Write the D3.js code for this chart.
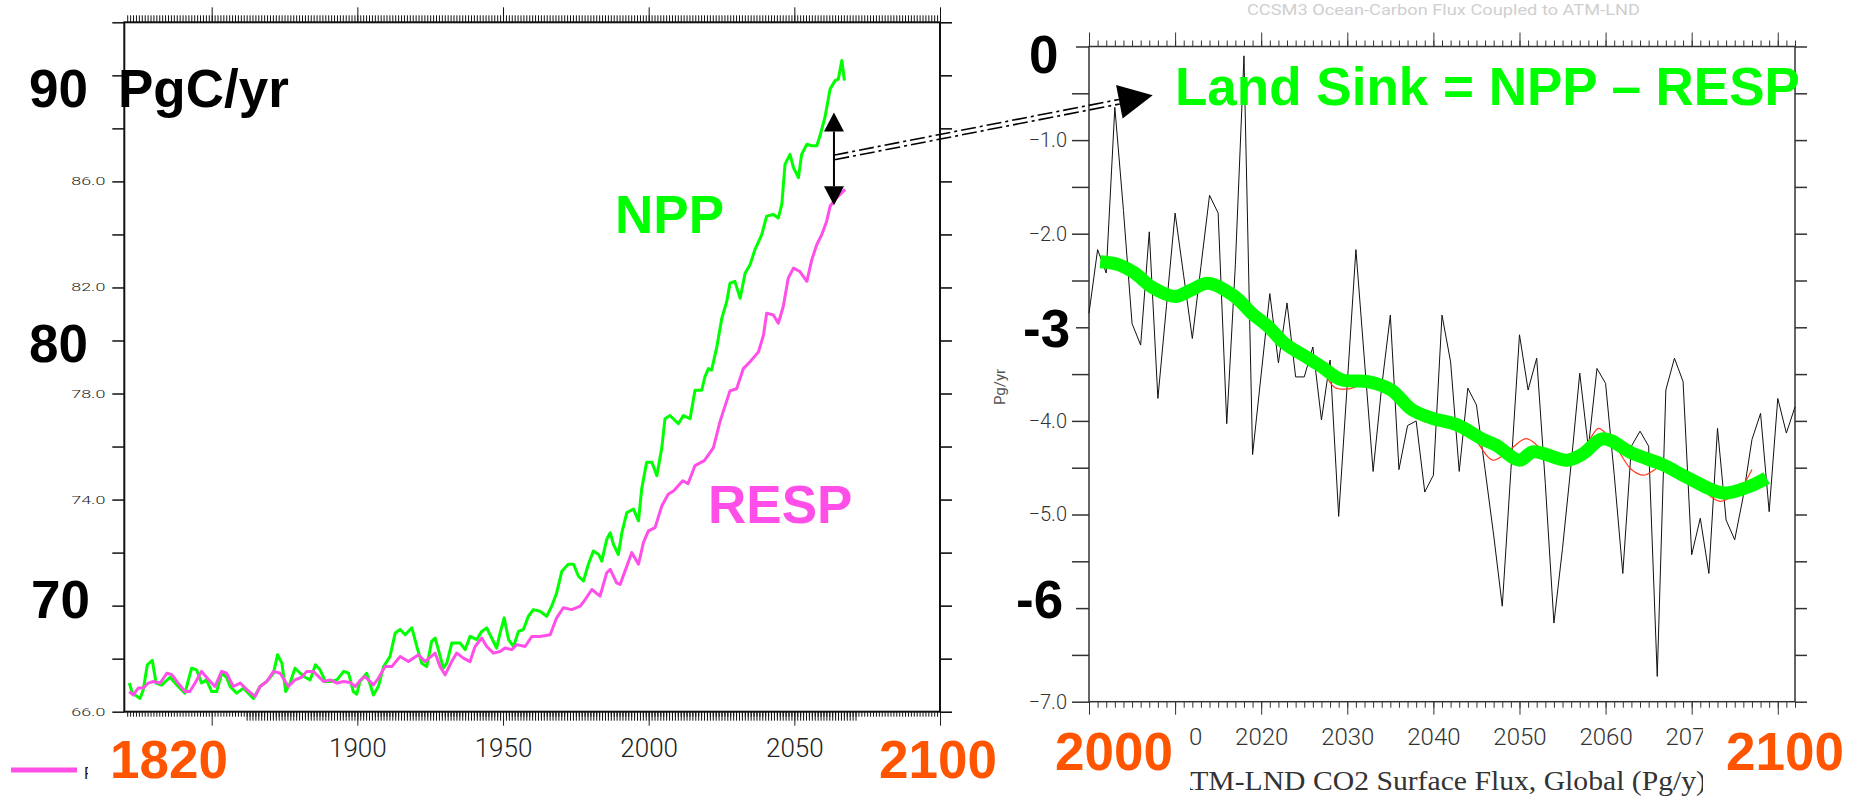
<!DOCTYPE html>
<html>
<head>
<meta charset="utf-8">
<script src="https://cdn.jsdelivr.net/npm/d3@7"></script>
<style>
  body { margin: 0; background: #fff; }
  svg { display: block; }
</style>
</head>
<body>
<svg id="chart" width="1860" height="798"></svg>
<script>
// ---- left panel: global NPP and RESP (PgC/yr) ----
const nppYears = [1821.7,1822.8,1825.4,1826.5,1827.9,1829.6,1830.9,1832.8,1835.7,1838.5,1840.8,1843.1,1844.8,1846.5,1848.2,1850.0,1851.7,1853.4,1855.1,1856.3,1858.6,1860.9,1864.3,1866.6,1868.9,1871.2,1872.6,1874.1,1875.4,1876.9,1878.6,1880.4,1882.1,1883.8,1885.6,1887.2,1889.0,1890.7,1893.0,1895.3,1897.0,1898.6,1899.8,1900.9,1903.2,1905.5,1907.2,1909.0,1911.2,1913.0,1914.7,1916.4,1918.7,1920.4,1922.1,1923.8,1925.5,1926.7,1927.8,1929.5,1930.7,1932.4,1935.3,1937.0,1938.7,1941.0,1942.7,1944.4,1946.1,1947.8,1949.0,1950.4,1951.9,1953.6,1955.3,1957.0,1958.7,1960.4,1962.7,1965.0,1966.7,1968.4,1970.2,1972.4,1974.2,1975.9,1977.6,1979.3,1981.0,1982.8,1983.9,1985.6,1986.8,1987.9,1989.6,1990.8,1992.5,1994.8,1996.5,1997.6,1999.3,2001.1,2002.8,2004.5,2005.6,2007.3,2010.2,2011.9,2014.2,2015.9,2018.2,2019.3,2020.5,2021.6,2023.4,2025.1,2026.8,2027.9,2029.6,2031.4,2033.1,2034.8,2036.5,2038.8,2040.5,2042.8,2044.5,2045.7,2046.8,2048.5,2049.7,2051.4,2052.5,2054.3,2056.0,2057.7,2058.8,2060.5,2062.3,2064.0,2065.1,2066.3,2067.2];
const nppValues = [67.08,66.70,66.50,66.82,67.77,67.94,67.08,67.00,67.30,66.95,66.70,67.64,67.58,67.08,67.20,66.76,66.76,67.45,67.30,66.95,66.70,66.89,66.50,66.95,67.14,67.45,68.15,67.83,66.76,67.08,67.64,67.45,67.30,67.20,67.77,67.58,67.14,67.14,67.20,67.52,67.45,66.76,66.66,67.14,67.45,66.63,66.95,67.70,68.08,68.97,69.10,68.90,69.16,68.46,67.83,67.70,68.65,68.78,68.34,67.64,67.83,68.59,68.59,68.34,68.84,68.72,69.03,69.16,68.78,68.40,68.97,69.54,68.72,68.46,69.03,69.10,69.60,69.85,69.79,69.60,69.98,70.48,71.30,71.56,71.56,71.11,70.93,71.56,72.06,71.93,71.68,72.50,72.75,72.31,71.93,72.75,73.51,73.64,73.20,74.40,75.41,75.41,74.90,75.95,77.05,77.17,76.86,77.17,77.05,78.12,78.12,78.63,78.94,78.88,79.76,80.84,81.47,82.16,82.23,81.59,82.54,82.86,83.43,83.99,84.69,84.75,84.62,85.13,86.64,87.02,86.52,86.14,87.02,87.40,87.34,87.34,87.72,88.41,89.49,89.80,89.86,90.56,89.80];

const respYears = [1821.7,1823.1,1824.8,1826.5,1828.2,1830.0,1832.3,1834.6,1836.3,1838.5,1840.8,1842.5,1844.3,1846.5,1848.2,1851.1,1853.4,1855.1,1857.4,1859.8,1861.5,1864.9,1866.6,1868.9,1871.2,1873.5,1876.3,1878.6,1880.9,1882.6,1884.9,1888.4,1890.7,1893.0,1895.3,1897.5,1899.3,1901.1,1902.6,1905.5,1907.2,1909.5,1911.8,1914.7,1917.5,1921.0,1923.2,1926.7,1928.4,1930.1,1932.4,1934.1,1936.4,1938.7,1940.4,1942.7,1944.4,1946.7,1949.0,1950.7,1953.0,1954.7,1957.6,1959.9,1962.7,1966.2,1968.4,1970.7,1973.6,1976.5,1978.2,1980.5,1983.3,1985.6,1986.8,1989.0,1990.2,1992.5,1994.2,1996.5,1998.2,1999.9,2002.2,2004.5,2006.7,2008.6,2011.7,2013.5,2015.9,2019.1,2022.2,2024.5,2027.9,2030.2,2032.5,2034.8,2037.7,2039.4,2040.5,2042.8,2044.5,2046.2,2047.9,2049.7,2051.9,2054.3,2056.0,2057.7,2059.4,2061.1,2062.3,2064.0,2065.7,2067.4];
const respValues = [66.76,66.63,66.89,66.89,67.08,67.14,67.08,67.45,67.40,67.08,66.76,66.76,67.08,67.52,67.30,66.95,67.52,67.45,66.95,67.08,66.89,66.57,66.95,67.14,67.52,67.45,66.95,67.20,67.30,67.52,67.52,67.14,67.20,67.08,67.14,67.10,66.95,67.20,67.33,67.01,67.26,67.70,67.70,68.08,67.89,68.15,67.89,68.21,67.70,67.39,67.89,68.21,68.02,67.89,68.46,68.78,68.46,68.21,68.27,68.40,68.34,68.53,68.46,68.84,68.84,68.90,69.54,69.92,69.85,69.98,70.23,70.61,70.36,71.24,71.37,70.86,70.80,71.49,72.00,71.56,72.38,72.82,72.94,73.76,74.20,74.33,74.71,74.60,75.28,75.47,75.95,76.95,78.10,78.18,78.94,79.20,79.57,80.20,81.03,80.96,80.65,81.28,82.35,82.73,82.60,82.23,83.05,83.61,83.99,84.50,85.07,85.32,85.51,85.70];

// ---- right panel: land CO2 surface flux (Pg/y) ----
const sinkYears = d3.range(2000, 2083);
const sinkValues = [-2.85,-2.17,-2.42,-0.65,-1.75,-2.96,-3.19,-1.98,-3.76,-2.77,-1.78,-2.45,-3.12,-2.35,-1.59,-1.78,-4.03,-2.33,-0.10,-4.36,-3.50,-2.64,-3.38,-2.74,-3.53,-3.53,-3.21,-3.99,-3.35,-5.02,-3.60,-2.17,-3.36,-4.54,-3.63,-2.87,-4.52,-4.05,-4.00,-4.76,-4.58,-2.87,-3.37,-4.54,-3.65,-3.83,-4.52,-5.22,-5.98,-4.53,-3.08,-3.67,-3.33,-4.67,-6.16,-5.36,-4.46,-3.49,-4.29,-3.44,-3.60,-4.57,-5.63,-4.27,-4.11,-4.27,-6.73,-3.67,-3.33,-3.58,-5.43,-5.04,-5.63,-4.08,-5.06,-5.27,-4.80,-4.20,-3.92,-4.97,-3.76,-4.13,-3.85];

const redYears = [2001.5,2004,2007,2008.5,2010,2012,2014,2016.5,2019,2021,2023,2025,2027,2028.5,2030,2032.5,2035,2037.5,2039,2041,2043,2045,2046.9,2049,2050.8,2053,2056,2058,2059.2,2061,2063,2064.4,2067,2070,2073.3,2075.5,2077];
const redValues = [-2.30,-2.38,-2.55,-2.69,-2.68,-2.58,-2.53,-2.68,-2.90,-3.05,-3.20,-3.33,-3.45,-3.64,-3.66,-3.60,-3.67,-3.92,-4.01,-4.03,-4.05,-4.22,-4.42,-4.30,-4.19,-4.33,-4.42,-4.22,-4.08,-4.25,-4.52,-4.58,-4.47,-4.62,-4.86,-4.74,-4.52];

const trendYears = [2001.3,2003.4,2005.3,2007.3,2010.0,2011.9,2013.8,2016.9,2018.9,2020.8,2022.7,2025.1,2027.0,2029.3,2032.4,2035.1,2037.5,2039.8,2042.7,2045.8,2047.3,2050.0,2051.6,2055.5,2057.4,2059.7,2063.2,2066.7,2069.4,2073.6,2076.7,2078.7];
const trendValues = [-2.30,-2.33,-2.42,-2.57,-2.67,-2.60,-2.53,-2.67,-2.85,-2.99,-3.17,-3.31,-3.42,-3.56,-3.58,-3.67,-3.88,-3.97,-4.04,-4.20,-4.26,-4.42,-4.33,-4.42,-4.35,-4.19,-4.35,-4.47,-4.60,-4.77,-4.70,-4.61];

// tick labels that the overlays leave visible
const leftYLabels = [66, 74, 78, 82, 86];
const leftXLabels = [1900, 1950, 2000, 2050];
const rightYLabels = [-1, -2, -4, -5, -7];
const rightXLabels = [2010, 2020, 2030, 2040, 2050, 2060, 2070];

// gap arrow between NPP and RESP, and where the connector lands
const gapYear = 2063.6, gapTop = 88.6, gapBottom = 85.1, gapMid = 86.9;
const sinkArrowYear = 2007.4, sinkArrowValue = -0.52;

const F_BIG = "'Liberation Sans', Arial, sans-serif";
const F_TICK = "Roboto, 'Liberation Sans', sans-serif";
const GREEN = "#00ff00", MAGENTA = "#ff4fe8", ORANGE = "#ff5500";

const svg = d3.select("#chart");
svg.append("rect").attr("width", 1860).attr("height", 798).attr("fill", "#fff");

const styleAxis = (g, size, color) => {
  g.select(".domain").remove();
  g.selectAll(".tick line").attr("stroke", color);
  g.selectAll(".tick text")
    .attr("font-size", size).attr("font-family", F_TICK)
    .attr("font-weight", 300).attr("fill", color);
};
const only = list => d => list.includes(d);

// ================= left panel =================
const xL = d3.scaleLinear().domain([1820, 2100]).range([124.3, 940]);
const yL = d3.scaleLinear().domain([66, 92]).range([711.7, 22.3]);
const gL = svg.append("g");

gL.append("g").attr("transform", `translate(0,${yL(66)})`)
  .call(d3.axisBottom(xL).tickValues(d3.range(1821, 2100)).tickSize(5).tickFormat(""))
  .call(g => styleAxis(g, 0, "#111"));
gL.append("g").attr("transform", `translate(0,${yL(66)})`)
  .call(d3.axisBottom(xL).tickValues(d3.range(1862, 2072)).tickSize(9).tickFormat(""))
  .call(g => styleAxis(g, 0, "#111"));
gL.append("g").attr("transform", `translate(0,${yL(66)})`)
  .call(d3.axisBottom(xL).tickValues(d3.range(1850, 2101, 50)).tickSize(14).tickPadding(13)
    .tickFormat(d => only(leftXLabels)(d) ? d3.format("d")(d) : ""))
  .call(g => styleAxis(g, 26, "#222"));

gL.append("g").attr("transform", `translate(0,${yL(92)})`)
  .call(d3.axisTop(xL).tickValues(d3.range(1821, 2100)).tickSize(7).tickFormat(""))
  .call(g => styleAxis(g, 0, "#111"));
gL.append("g").attr("transform", `translate(0,${yL(92)})`)
  .call(d3.axisTop(xL).tickValues(d3.range(1850, 2101, 50)).tickSize(15).tickFormat(""))
  .call(g => styleAxis(g, 0, "#111"));

gL.append("g").attr("transform", `translate(${xL(1820)},0)`)
  .call(d3.axisLeft(yL).tickValues(d3.range(66, 93, 2)).tickSize(12).tickPadding(7)
    .tickFormat(d => only(leftYLabels)(d) ? d.toFixed(1) : ""))
  .call(g => styleAxis(g, 11, "#222"))
  .call(g => g.selectAll(".tick line").attr("stroke-width", 1.6))
  .call(g => g.selectAll(".tick text").filter(function () { return this.textContent; })
    .attr("textLength", 34).attr("lengthAdjust", "spacingAndGlyphs"));
gL.append("g").attr("transform", `translate(${xL(2100)},0)`)
  .call(d3.axisRight(yL).tickValues(d3.range(66, 93, 2)).tickSize(12).tickFormat(""))
  .call(g => styleAxis(g, 0, "#111"))
  .call(g => g.selectAll(".tick line").attr("stroke-width", 1.6));

gL.append("rect")
  .attr("x", xL(1820)).attr("y", yL(92))
  .attr("width", xL(2100) - xL(1820)).attr("height", yL(66) - yL(92))
  .attr("fill", "none").attr("stroke", "#111").attr("stroke-width", 2);

const lineL = d3.line().x(d => xL(d[0])).y(d => yL(d[1]));
gL.append("path").datum(d3.zip(nppYears, nppValues)).attr("d", lineL)
  .attr("fill", "none").attr("stroke", GREEN).attr("stroke-width", 3).attr("stroke-linejoin", "round");
gL.append("path").datum(d3.zip(respYears, respValues)).attr("d", lineL)
  .attr("fill", "none").attr("stroke", MAGENTA).attr("stroke-width", 3).attr("stroke-linejoin", "round");

// legend stub at bottom-left (its text is mostly under the "1820" box)
svg.append("line").attr("x1", 11).attr("x2", 77).attr("y1", 770).attr("y2", 770)
  .attr("stroke", MAGENTA).attr("stroke-width", 5);
svg.append("text").attr("x", 84).attr("y", 779).attr("font-size", 16)
  .attr("font-family", F_TICK).attr("fill", "#222").text("RESP");

// ================= right panel =================
const xR = d3.scaleLinear().domain([2000, 2082]).range([1089, 1795]);
const yR = d3.scaleLinear().domain([-7, 0]).range([701.7, 46.5]);
const gR = svg.append("g");

gR.append("text").attr("x", 1247).attr("y", 15).attr("font-size", 15)
  .attr("font-family", F_TICK).attr("fill", "#cfcfcf")
  .attr("textLength", 393).attr("lengthAdjust", "spacingAndGlyphs")
  .text("CCSM3 Ocean-Carbon Flux Coupled to ATM-LND");

gR.append("g").attr("transform", `translate(0,${yR(-7)})`)
  .call(d3.axisBottom(xR).tickValues(d3.range(2001, 2083)).tickSize(6).tickFormat(""))
  .call(g => styleAxis(g, 0, "#333"));
gR.append("g").attr("transform", `translate(0,${yR(-7)})`)
  .call(d3.axisBottom(xR).tickValues(d3.range(2000, 2081, 10)).tickSize(13).tickPadding(13)
    .tickFormat(d => only(rightXLabels)(d) ? d3.format("d")(d) : ""))
  .call(g => styleAxis(g, 24, "#333"));
gR.append("g").attr("transform", `translate(0,${yR(0)})`)
  .call(d3.axisTop(xR).tickValues(d3.range(2001, 2083)).tickSize(6).tickFormat(""))
  .call(g => styleAxis(g, 0, "#333"));
gR.append("g").attr("transform", `translate(0,${yR(0)})`)
  .call(d3.axisTop(xR).tickValues(d3.range(2000, 2081, 10)).tickSize(14).tickFormat(""))
  .call(g => styleAxis(g, 0, "#333"));

gR.append("g").attr("transform", `translate(${xR(2000)},0)`)
  .call(d3.axisLeft(yR).tickValues(d3.range(-7, 0.25, 0.5)).tickSize(17).tickPadding(5)
    .tickFormat(d => only(rightYLabels)(d) ? d3.format(".1f")(d) : ""))
  .call(g => styleAxis(g, 20, "#333"))
  .call(g => g.selectAll(".tick line").attr("stroke-width", 1.5));
gR.append("g").attr("transform", `translate(${xR(2082)},0)`)
  .call(d3.axisRight(yR).tickValues(d3.range(-7, 0.25, 0.5)).tickSize(12).tickFormat(""))
  .call(g => styleAxis(g, 0, "#333"))
  .call(g => g.selectAll(".tick line").attr("stroke-width", 1.5));

gR.append("rect")
  .attr("x", xR(2000)).attr("y", yR(0))
  .attr("width", xR(2082) - xR(2000)).attr("height", yR(-7) - yR(0))
  .attr("fill", "none").attr("stroke", "#333").attr("stroke-width", 1.5);

gR.append("text").attr("transform", "translate(1005,405) rotate(-90)")
  .attr("font-size", 15).attr("font-family", F_TICK).attr("fill", "#555").text("Pg/yr");

gR.append("text").attr("x", 1172).attr("y", 790).attr("font-size", 27)
  .attr("font-family", "'Liberation Serif', 'DejaVu Serif', serif").attr("fill", "#333")
  .attr("textLength", 534).attr("lengthAdjust", "spacingAndGlyphs")
  .text("ATM-LND CO2 Surface Flux, Global (Pg/y)");

const lineR = d3.line().x(d => xR(d[0])).y(d => yR(d[1]));
gR.append("path").datum(d3.zip(sinkYears, sinkValues)).attr("d", lineR)
  .attr("fill", "none").attr("stroke", "#111").attr("stroke-width", 1);
gR.append("path").datum(d3.zip(redYears, redValues)).attr("d", lineR.curve(d3.curveCatmullRom))
  .attr("fill", "none").attr("stroke", "#ff3b1f").attr("stroke-width", 1.2);
gR.append("path").datum(d3.zip(trendYears, trendValues)).attr("d", lineR.curve(d3.curveCatmullRom))
  .attr("fill", "none").attr("stroke", GREEN).attr("stroke-width", 13)
  .attr("stroke-linejoin", "round");

// ================= overlay labels (white boxes hide parts of the plot below) =================
const overlay = [
  { t: "90", x: 29, y: 107, c: "#000", box: [20, 62, 88, 50] },
  { t: "PgC/yr", x: 118, y: 107, c: "#000" },
  { t: "80", x: 29, y: 362, c: "#000", box: [20, 318, 88, 52] },
  { t: "70", x: 31, y: 618, c: "#000", box: [20, 574, 88, 52] },
  { t: "NPP", x: 615, y: 233, c: GREEN },
  { t: "RESP", x: 708, y: 523, c: MAGENTA },
  { t: "1820", x: 110, y: 778, c: ORANGE, box: [88, 728, 154, 70] },
  { t: "2100", x: 879, y: 778, c: ORANGE, box: [858, 728, 142, 70] },
  { t: "0", x: 1029, y: 73, c: "#000", box: [1008, 22, 68, 58] },
  { t: "-3", x: 1023, y: 347, c: "#000", box: [985, 300, 91, 52] },
  { t: "-6", x: 1016, y: 618, c: "#000", box: [1000, 574, 76, 52] },
  { t: "2000", x: 1055, y: 770, c: ORANGE, box: [1035, 722, 155, 76] },
  { t: "2100", x: 1726, y: 770, c: ORANGE, box: [1703, 722, 157, 76] },
  { t: "Land Sink = NPP \u2013 RESP", x: 1175, y: 105, c: GREEN }
];
overlay.filter(d => d.box).forEach(d => {
  svg.append("rect").attr("x", d.box[0]).attr("y", d.box[1])
    .attr("width", d.box[2]).attr("height", d.box[3]).attr("fill", "#fff");
});
overlay.forEach(d => {
  svg.append("text").attr("x", d.x).attr("y", d.y)
    .attr("font-family", F_BIG).attr("font-weight", "bold").attr("font-size", 53)
    .attr("fill", d.c).text(d.t);
});

// ================= arrows =================
const ax = xL(gapYear);
svg.append("line").attr("x1", ax).attr("x2", ax)
  .attr("y1", yL(gapTop) + 19).attr("y2", yL(gapBottom) - 19)
  .attr("stroke", "#000").attr("stroke-width", 2);
svg.append("path")
  .attr("d", `M${ax},${yL(gapTop)}L${ax - 10},${yL(gapTop) + 19}L${ax + 10},${yL(gapTop) + 19}Z`)
  .attr("fill", "#000");
svg.append("path")
  .attr("d", `M${ax},${yL(gapBottom)}L${ax - 10},${yL(gapBottom) - 19}L${ax + 10},${yL(gapBottom) - 19}Z`)
  .attr("fill", "#000");

const p0 = [ax, yL(gapMid)];
const p1 = [xR(sinkArrowYear), yR(sinkArrowValue)];
const len = Math.hypot(p1[0] - p0[0], p1[1] - p0[1]);
const ux = (p1[0] - p0[0]) / len, uy = (p1[1] - p0[1]) / len;
const nx = -uy, ny = ux;
const base = [p1[0] - ux * 34, p1[1] - uy * 34];
[-2.3, 2.3].forEach(o => {
  svg.append("line")
    .attr("x1", p0[0] + nx * o).attr("y1", p0[1] + ny * o)
    .attr("x2", base[0] + nx * o).attr("y2", base[1] + ny * o)
    .attr("stroke", "#000").attr("stroke-width", 1.6)
    .attr("stroke-dasharray", "15,4,3,4");
});
svg.append("path")
  .attr("d", `M${p1[0]},${p1[1]}L${base[0] + nx * 17},${base[1] + ny * 17}L${base[0] - nx * 17},${base[1] - ny * 17}Z`)
  .attr("fill", "#000");
</script>
</body>
</html>
